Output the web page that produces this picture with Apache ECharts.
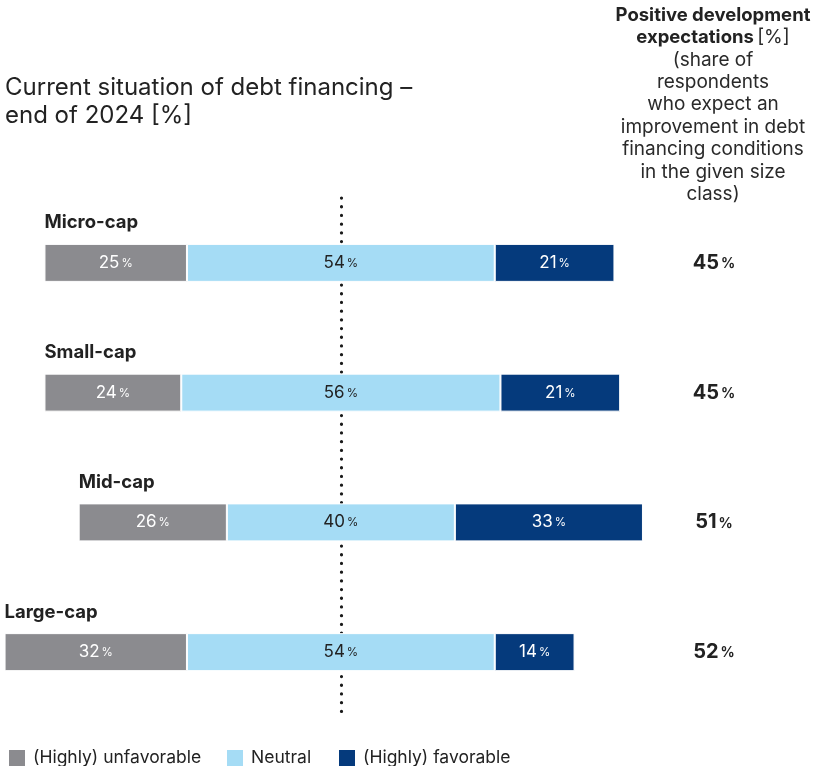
<!DOCTYPE html>
<html>
<head>
<meta charset="utf-8">
<script src="https://cdn.jsdelivr.net/npm/echarts@6/dist/echarts.min.js"></script>
<style>
  html, body { margin: 0; padding: 0; background: #fff; }
  #chart { width: 822px; height: 766px; }
</style>
</head>
<body>
<div id="chart"></div>
<script>
// Debt financing situation by size class, end of 2024 (shares in %)
const categories = ['Micro-cap', 'Small-cap', 'Mid-cap', 'Large-cap'];
const unfavorable = [25, 24, 26, 32];
const neutral = [54, 56, 40, 54];
const favorable = [21, 21, 33, 14];
const positiveExpectations = [45, 45, 51, 52];
const seriesNames = ['(Highly) unfavorable', 'Neutral', '(Highly) favorable'];

const FONT = 'Inter, "Noto Sans", sans-serif';
const TEXT = '#222222';
const COLORS = { unfav: '#8b8b8f', neutral: '#a5dcf5', fav: '#053a7c' };

// The bars diverge around the middle of the neutral segment, placed at CENTER.
const CENTER = 60;
const offsets = categories.map((_, i) => CENTER - (unfavorable[i] + neutral[i] / 2));

function valueLabel(color) {
  return {
    show: true,
    position: 'inside',
    color: color,
    fontFamily: FONT,
    formatter: p => '{v|' + p.value + '}{p|%}',
    rich: {
      v: { fontSize: 17, color: color, fontFamily: FONT },
      p: { fontSize: 11.5, color: color, fontFamily: FONT, padding: [1, 0, 0, 2] }
    }
  };
}

const barCommon = {
  type: 'bar',
  stack: 'share',
  barWidth: 38,
  silent: true,
  emphasis: { disabled: true }
};

// one legend block per entry so each sits at its own left offset
const legendLefts = [4, 222, 334];
const legends = seriesNames.map((name, i) => ({
  data: [name],
  left: legendLefts[i], top: 744,
  icon: 'rect', itemWidth: 16, itemHeight: 16, itemGap: 0,
  itemStyle: { borderWidth: 0 },
  textStyle: { fontSize: 17.5, color: TEXT, fontFamily: FONT, padding: [0, 0, 0, 3] },
  selectedMode: false
}));

const chart = echarts.init(document.getElementById('chart'), null, { renderer: 'canvas' });

chart.setOption({
  animation: false,
  textStyle: { fontFamily: FONT },
  grid: { left: 0, top: 198, width: 684, height: 519, containLabel: false },
  xAxis: {
    type: 'value', min: 0.2, max: 120.2,
    show: false
  },
  yAxis: [
    {
      type: 'category', data: categories, inverse: true,
      show: false
    },
    {
      type: 'category', data: categories, inverse: true,
      position: 'right',
      axisLine: { show: false }, axisTick: { show: false }, splitLine: { show: false },
      axisLabel: {
        margin: 30,
        align: 'center',
        formatter: (val, idx) => '{v|' + positiveExpectations[idx] + '}{p|%}',
        rich: {
          v: { fontSize: 20, fontWeight: 'bold', color: TEXT, fontFamily: FONT },
          p: { fontSize: 14, fontWeight: 'bold', color: TEXT, fontFamily: FONT, padding: [2, 0, 0, 2] }
        }
      }
    }
  ],
  legend: legends,
  graphic: [
    {
      type: 'text', left: 5, top: 74,
      style: {
        text: 'Current situation of debt financing –\nend of 2024 [%]',
        font: '24px ' + FONT, fill: TEXT, lineHeight: 28
      }
    },
    {
      type: 'text', x: 713, y: 3.8,
      style: {
        text: '{b|Positive development}\n{b|expectations} {r|[%]}\n{r|(share of}\n{r|respondents}\n{r|who expect an}\n{r|improvement in debt}\n{r|financing conditions}\n{r|in the given size}\n{r|class)}',
        align: 'center',
        lineHeight: 22.4,
        rich: {
          b: { fontSize: 18.5, fontWeight: 'bold', fill: TEXT, fontFamily: FONT, lineHeight: 22.4 },
          r: { fontSize: 19, fill: '#2a2a2a', fontFamily: FONT, lineHeight: 22.4 }
        }
      }
    }
  ],
  series: [
    Object.assign({}, barCommon, {
      name: 'offset',
      data: offsets,
      itemStyle: { color: 'rgba(0,0,0,0)' },
      label: {
        show: true,
        position: ['100%', -21],
        align: 'left',
        verticalAlign: 'middle',
        formatter: p => categories[p.dataIndex],
        fontSize: 18.5, fontWeight: 'bold', color: TEXT, fontFamily: FONT
      }
    }),
    Object.assign({}, barCommon, {
      name: seriesNames[0],
      data: unfavorable,
      itemStyle: { color: COLORS.unfav, borderColor: '#fff', borderWidth: 1 },
      label: valueLabel('#ffffff'),
      markLine: {
        silent: true,
        z: 1,
        symbol: ['none', 'none'],
        label: { show: false },
        lineStyle: { color: '#1a1a1a', width: 3.2, type: [0.1, 8.6], cap: 'round' },
        data: [{ xAxis: CENTER }]
      }
    }),
    Object.assign({}, barCommon, {
      name: seriesNames[1],
      data: neutral,
      itemStyle: { color: COLORS.neutral, borderColor: '#fff', borderWidth: 1 },
      label: valueLabel(TEXT)
    }),
    Object.assign({}, barCommon, {
      name: seriesNames[2],
      data: favorable,
      itemStyle: { color: COLORS.fav, borderColor: '#fff', borderWidth: 1 },
      label: valueLabel('#ffffff')
    })
  ]
});
</script>
</body>
</html>
